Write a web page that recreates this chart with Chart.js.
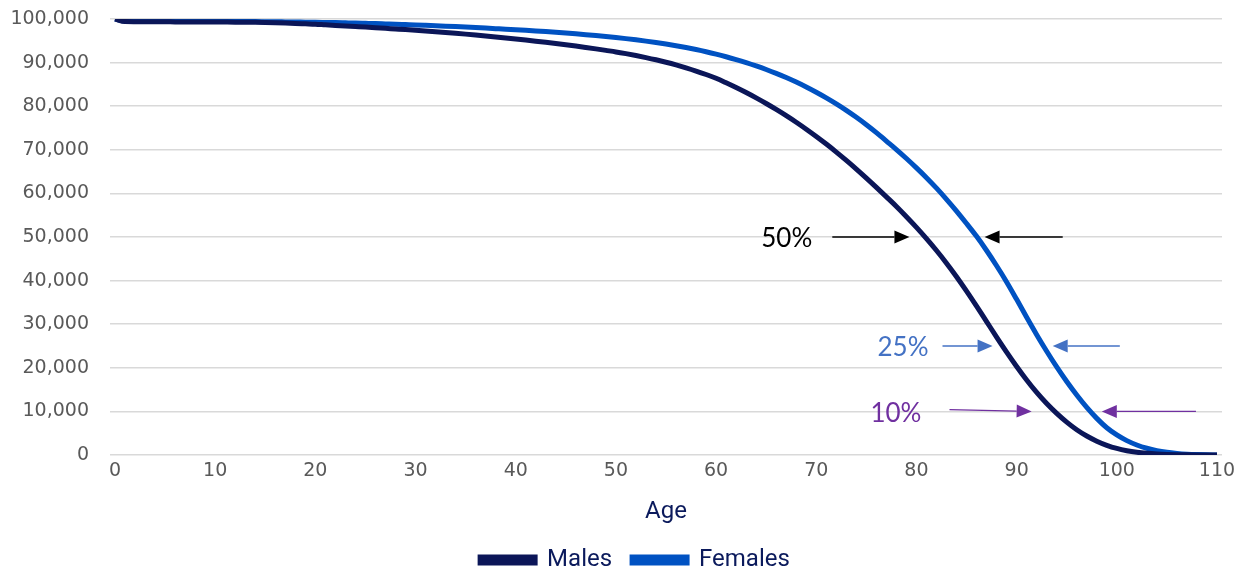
<!DOCTYPE html>
<html>
<head>
<meta charset="utf-8">
<script src="https://cdn.jsdelivr.net/npm/chart.js@4.4.1/dist/chart.umd.min.js"></script>
<style>
  html, body { margin: 0; padding: 0; background: #ffffff; }
  #wrap { width: 1243px; height: 574px; }
</style>
</head>
<body>
<div id="wrap"><canvas id="lifeChart" width="1243" height="574"></canvas></div>
<script>
// survivors out of 100,000 births, by age
const ages = [
  0, 1, 2, 3, 4, 5, 6, 7, 8, 9, 10, 11, 12, 13, 14, 15, 16, 17, 18, 19,
  20, 21, 22, 23, 24, 25, 26, 27, 28, 29, 30, 31, 32, 33, 34, 35, 36, 37, 38, 39,
  40, 41, 42, 43, 44, 45, 46, 47, 48, 49, 50, 51, 52, 53, 54, 55, 56, 57, 58, 59,
  60, 61, 62, 63, 64, 65, 66, 67, 68, 69, 70, 71, 72, 73, 74, 75, 76, 77, 78, 79,
  80, 81, 82, 83, 84, 85, 86, 87, 88, 89, 90, 91, 92, 93, 94, 95, 96, 97, 98, 99,
  100, 101, 102, 103, 104, 105, 106, 107, 108, 109, 110
];

const males = [
  100000, 99420, 99390, 99370, 99360, 99350, 99340, 99330, 99320, 99310,
  99300, 99290, 99280, 99260, 99230, 99190, 99130, 99060, 98980, 98890,
  98800, 98660, 98530, 98400, 98270, 98140, 98000, 97860, 97720, 97580,
  97430, 97270, 97100, 96920, 96730, 96530, 96320, 96100, 95870, 95630,
  95400, 95160, 94910, 94650, 94380, 94100, 93800, 93480, 93150, 92800,
  92450, 92050, 91620, 91150, 90640, 90080, 89470, 88800, 88070, 87270,
  86400, 85370, 84280, 83130, 81910, 80620, 79260, 77830, 76320, 74730,
  73060, 71310, 69480, 67570, 65580, 63520, 61390, 59210, 57000, 54650,
  52200, 49620, 46900, 44000, 40900, 37600, 34150, 30600, 27050, 23600,
  20300, 17200, 14350, 11800, 9550, 7550, 5800, 4350, 3175, 2225,
  1500, 980, 615, 375, 220, 125, 70, 38, 18, 9, 4
];

const females = [
  100000, 99520, 99500, 99490, 99480, 99470, 99460, 99455, 99450, 99445,
  99440, 99435, 99430, 99420, 99410, 99390, 99370, 99340, 99310, 99280,
  99250, 99210, 99170, 99120, 99070, 99010, 98950, 98880, 98810, 98730,
  98650, 98560, 98465, 98365, 98260, 98150, 98035, 97915, 97790, 97665,
  97535, 97400, 97260, 97110, 96950, 96780, 96600, 96410, 96200, 95980,
  95750, 95500, 95230, 94930, 94610, 94260, 93880, 93460, 93000, 92500,
  91950, 91350, 90700, 90000, 89240, 88420, 87530, 86570, 85530, 84410,
  83210, 81920, 80540, 79060, 77470, 75770, 73950, 72000, 70050, 68000,
  65850, 63600, 61200, 58650, 55950, 53100, 50150, 46900, 43400, 39700,
  35700, 31600, 27600, 23800, 20200, 16850, 13750, 10900, 8400, 6250,
  4600, 3300, 2300, 1550, 1000, 620, 370, 200, 100, 45, 15
];

const seriesNames = ['Males', 'Females'];
const xTickAges = [0, 10, 20, 30, 40, 50, 60, 70, 80, 90, 100, 110];
const yTicks = [0, 10000, 20000, 30000, 40000, 50000, 60000, 70000, 80000, 90000, 100000];

// share-surviving markers
const noteLabels = ['50%', '25%', '10%'];
const noteLevels = [50000, 25000, 10000];

const navy = '#0b1a5c';
const tickGrey = '#595959';

// where each marker sits (ages along the x axis)
const noteLayout = [
  { color: '#000000', textEnd: 69.6, left: [71.6, 79.3], right: [86.8, 94.6], tailLift: 0 },
  { color: '#4472c4', textEnd: 81.2, left: [82.6, 87.6], right: [93.6, 100.3], tailLift: 0 },
  { color: '#7030a0', textEnd: 80.5, left: [83.3, 91.5], right: [98.5, 107.9], tailLift: 400 }
];

function drawArrow(ctx, x1, y1, x2, y2, color) {
  const head = 15, half = 6.5;
  const ang = Math.atan2(y2 - y1, x2 - x1);
  const bx = x2 - head * Math.cos(ang), by = y2 - head * Math.sin(ang);
  ctx.strokeStyle = color;
  ctx.fillStyle = color;
  ctx.lineWidth = 1.4;
  ctx.beginPath();
  ctx.moveTo(x1, y1);
  ctx.lineTo(bx, by);
  ctx.stroke();
  ctx.beginPath();
  ctx.moveTo(x2, y2);
  ctx.lineTo(bx + half * Math.sin(ang), by - half * Math.cos(ang));
  ctx.lineTo(bx - half * Math.sin(ang), by + half * Math.cos(ang));
  ctx.closePath();
  ctx.fill();
}

const markers = {
  id: 'markers',
  afterLayout(chart) {
    // legend sits a little right of centre in the original
    chart.legend.left += 24;
    chart.legend.right += 24;
  },
  afterDatasetsDraw(chart) {
    const { ctx, scales: { x, y } } = chart;
    const x0 = x.getPixelForValue(0);
    const step = x.getPixelForValue(1) - x0;
    const ax = age => x0 + age * step;
    ctx.save();
    noteLabels.forEach((label, i) => {
      const lay = noteLayout[i];
      const py = y.getPixelForValue(noteLevels[i]);
      const tailY = y.getPixelForValue(noteLevels[i] + lay.tailLift);
      ctx.font = '26px Lato';
      ctx.fillStyle = lay.color;
      ctx.textAlign = 'right';
      ctx.textBaseline = 'middle';
      ctx.fillText(label, ax(lay.textEnd), py + 2);
      drawArrow(ctx, ax(lay.left[0]), tailY, ax(lay.left[1]), py, lay.color);
      drawArrow(ctx, ax(lay.right[1]), py, ax(lay.right[0]), py, lay.color);
    });
    ctx.restore();
  }
};

new Chart(document.getElementById('lifeChart'), {
  type: 'line',
  data: {
    labels: ages,
    datasets: [
      {
        label: seriesNames[0],
        data: males,
        borderColor: '#0b1658',
        backgroundColor: '#0b1658',
        borderWidth: 5,
        pointRadius: 0,
        cubicInterpolationMode: 'monotone'
      },
      {
        label: seriesNames[1],
        data: females,
        borderColor: '#0052c2',
        backgroundColor: '#0052c2',
        borderWidth: 5,
        pointRadius: 0,
        cubicInterpolationMode: 'monotone'
      }
    ]
  },
  options: {
    responsive: false,
    devicePixelRatio: 1,
    animation: false,
    layout: { padding: { top: 19, right: 21, bottom: -8, left: 0 } },
    plugins: {
      tooltip: { enabled: false },
      legend: {
        position: 'bottom',
        labels: {
          boxWidth: 55,
          boxHeight: 6,
          padding: 20,
          color: navy,
          font: { family: 'Roboto', size: 24 }
        }
      }
    },
    scales: {
      x: {
        offset: true,
        grid: { display: false, drawTicks: false },
        border: { display: false },
        ticks: {
          autoSkip: false,
          maxRotation: 0,
          padding: 5,
          color: tickGrey,
          font: { family: 'DejaVu Sans', size: 19 },
          callback: function (val) {
            const age = ages[val];
            return xTickAges.includes(age) ? String(age) : null;
          }
        },
        title: {
          display: true,
          text: 'Age',
          color: navy,
          font: { family: 'Roboto', size: 24 },
          padding: { top: 0, bottom: 2 }
        },
        afterFit(scale) { scale.height = 73; }
      },
      y: {
        min: 0,
        max: 100000,
        grid: { color: '#d9d9d9', lineWidth: 1.5, drawTicks: false },
        border: { display: false },
        afterBuildTicks(scale) { scale.ticks = yTicks.map(v => ({ value: v })); },
        ticks: {
          padding: 21,
          color: tickGrey,
          font: { family: 'DejaVu Sans', size: 19 },
          callback: v => v.toLocaleString('en-US')
        },
        afterFit(scale) {
          scale.width = 110;
          scale.paddingTop = 0;
          scale.paddingBottom = 0;
        }
      }
    }
  },
  plugins: [markers]
});
</script>
</body>
</html>
